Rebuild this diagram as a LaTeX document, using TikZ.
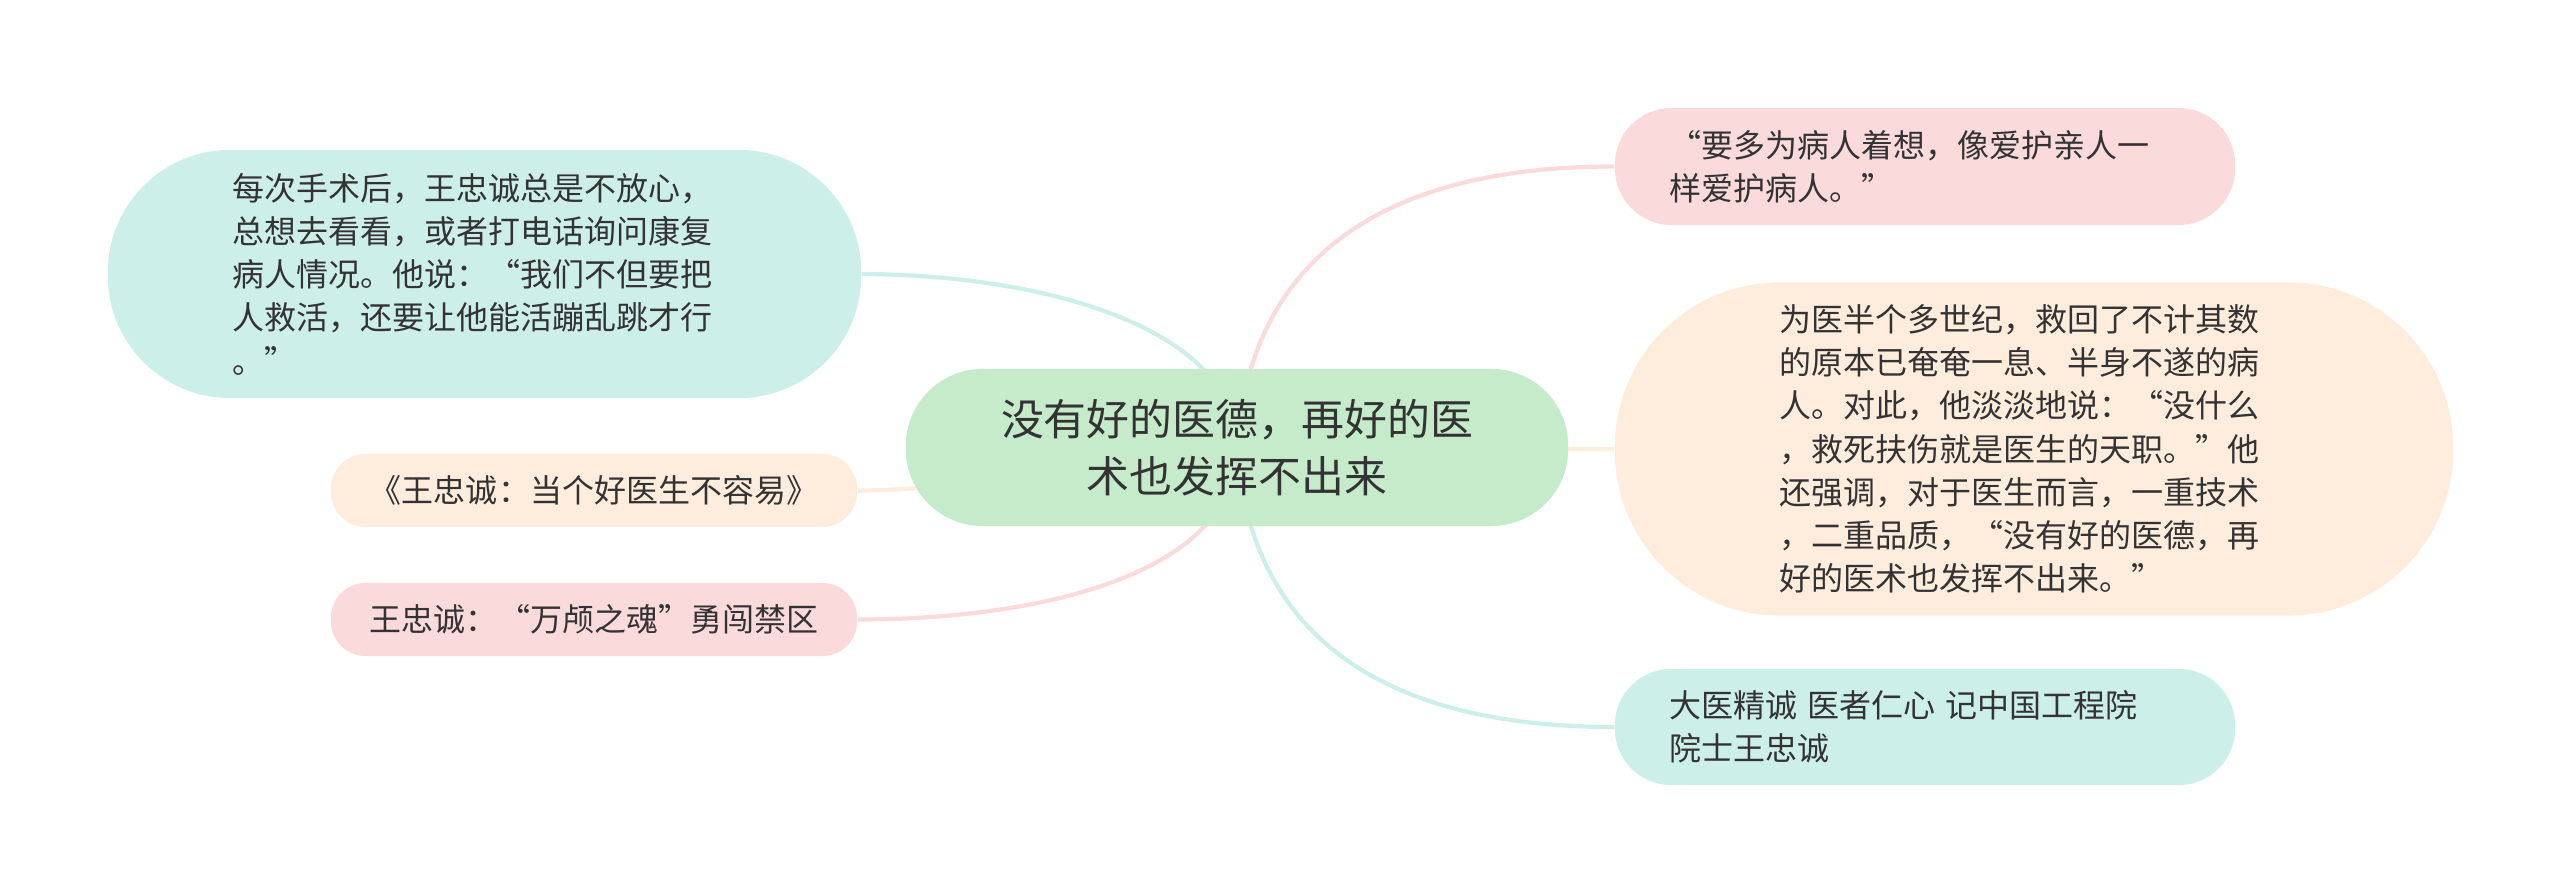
\documentclass[tikz,border=0pt]{standalone}
\usepackage{fontspec}
\setmainfont{Noto Sans CJK SC}
\usetikzlibrary{backgrounds}
\definecolor{leaf}{HTML}{C5EBCA}
\definecolor{mint}{HTML}{CDEFE9}
\definecolor{peach}{HTML}{FEEDDC}
\definecolor{rose}{HTML}{FADADB}
\definecolor{ink}{HTML}{333333}
\begin{document}
\begin{tikzpicture}[x=0.01cm,y=-0.01cm,
  topic/.style 2 args={text=ink,align=left,inner sep=0pt,minimum width=#1cm,minimum height=#2cm,
    rounded corners=#2*0.5cm-0.5pt,font=\fontsize{9.1pt}{12.3pt}\selectfont},
  link/.style={line width=1.2pt}]
\useasboundingbox (0,0) rectangle (2560,895);
% centre
\node[topic={6.62}{1.57},fill=leaf,align=center,font=\fontsize{12.2pt}{16.2pt}\selectfont] (root) at (1237,447.5) {没有好的医德，再好的医\\术也发挥不出来};
% left side
\node[topic={7.53}{2.48},fill=mint,text width=5.03cm] (lt) at (484.5,274) {每次手术后，王忠诚总是不放心，\\总想去看看，或者打电话询问康复\\病人情况。他说：“我们不但要把\\人救活，还要让他能活蹦乱跳才行\\。”};
\node[topic={5.26}{0.73},fill=peach] (lm) at (594,490.5) {《王忠诚：当个好医生不容易》};
\node[topic={5.26}{0.73},fill=rose] (lb) at (594,619.5) {王忠诚：“万颅之魂”勇闯禁区};
% right side
\node[topic={6.20}{1.17},fill=rose,text width=5.1cm] (rt) at (1925,166.5) {“要多为病人着想，像爱护亲人一\\样爱护病人。”};
\node[topic={8.38}{3.33},fill=peach,text width=5.08cm] (rm) at (2034,449) {为医半个多世纪，救回了不计其数\\的原本已奄奄一息、半身不遂的病\\人。对此，他淡淡地说：“没什么\\，救死扶伤就是医生的天职。”他\\还强调，对于医生而言，一重技术\\，二重品质，“没有好的医德，再\\好的医术也发挥不出来。”};
\node[topic={6.20}{1.16},fill=mint,text width=5.1cm] (rb) at (1925,727) {\spaceskip=0.3em\relax 大医精诚 医者仁心 记中国工程院\\院士王忠诚};
\begin{scope}[on background layer]
\draw[link,mint] (root.center) .. controls (1237,330) and (1050,275) .. (lt.east);
\draw[link,peach] (root.center) .. controls (1100,447.5) and (1000,490.5) .. (lm.east);
\draw[link,rose] (root.center) .. controls (1237,570) and (1050,619.5) .. (lb.east);
\draw[link,rose] (root.center) .. controls (1250,260) and (1380,166.5) .. (rt.west);
\draw[link,peach] (root.center) -- (rm.west);
\draw[link,mint] (root.center) .. controls (1250,634) and (1380,727) .. (rb.west);
\end{scope}
\end{tikzpicture}
\end{document}
